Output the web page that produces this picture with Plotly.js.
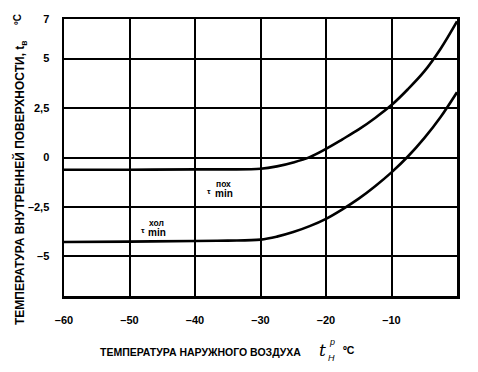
<!DOCTYPE html>
<html>
<head>
<meta charset="utf-8">
<script src="https://cdn.plot.ly/plotly-3.0.1.min.js"></script>
<style>html,body{margin:0;padding:0;background:#fff;}#chart{width:478px;height:372px;}</style>
</head>
<body>
<div id="chart"></div>
<script>
// Outdoor temperature, °C
var outdoorTemp = [-60, -50, -40, -35, -30, -27.5, -25, -22.5, -20, -17.5, -15, -12.5, -10, -7.5, -5, -2.5, 0];
// τ min (пох) curve
var tauPoh = [-0.62, -0.62, -0.6, -0.6, -0.57, -0.45, -0.25, 0.02, 0.44, 0.92, 1.42, 2.0, 2.65, 3.45, 4.35, 5.5, 6.88];
// τ min (хол) curve
var tauHol = [-4.27, -4.25, -4.22, -4.2, -4.15, -4.0, -3.77, -3.47, -3.1, -2.62, -2.08, -1.45, -0.75, 0.05, 0.98, 2.05, 3.3];

var xTickVals = [-60, -50, -40, -30, -20, -10];
var xTickText = ['–60', '–50', '–40', '–30', '–20', '–10'];
var yTickVals = [-5, -2.5, 0, 2.5, 5, 7];
var yTickText = ['–5', '–2,5', '0', '2,5', '5', '7'];

var F = 'Liberation Sans, Arial, sans-serif';
var lineStyle = {color: '#000', width: 2.6, shape: 'spline', smoothing: 1};

var data = [
  {x: outdoorTemp, y: tauPoh, mode: 'lines', line: lineStyle, hoverinfo: 'skip', showlegend: false},
  {x: outdoorTemp, y: tauHol, mode: 'lines', line: lineStyle, hoverinfo: 'skip', showlegend: false}
];

function ann(x, y, text, size, opts) {
  var a = {x: x, y: y, xref: 'x', yref: 'y', text: text, showarrow: false,
    font: {family: F, size: size, color: '#000', weight: 'bold'}, xanchor: 'center', yanchor: 'middle'};
  for (var k in opts) a[k] = opts[k];
  return a;
}
function pann(px, py, text, font, opts) {
  var a = {xref: 'paper', yref: 'paper', x: (px - 64) / 393, y: (296 - py) / 277, text: text,
    showarrow: false, font: font, xanchor: 'center', yanchor: 'middle'};
  for (var k in opts) a[k] = opts[k];
  return a;
}

var annotations = [
  ann(-37.9, -1.72, 'τ', 8),
  ann(-35.7, -1.36, 'пох', 8.5),
  ann(-35.6, -1.8, 'min', 10),
  ann(-47.9, -3.7, 'τ', 8),
  ann(-45.9, -3.33, 'хол', 8.5),
  ann(-45.8, -3.78, 'min', 10),
  // y title
  pann(20, 183, 'ТЕМПЕРАТУРА ВНУТРЕННЕЙ ПОВЕРХНОСТИ, t<sub>в</sub>',
       {family: F, size: 12, color: '#000', weight: 'bold'}, {textangle: -90}),
  pann(17, 20, 'ºC', {family: F, size: 10, color: '#000', weight: 'bold'}, {textangle: -90}),
  // x title
  pann(200, 352, 'ТЕМПЕРАТУРА НАРУЖНОГО ВОЗДУХА', {family: F, size: 10.5, color: '#000', weight: 'bold'}),
  pann(322, 350, '<i>t</i>', {family: 'DejaVu Serif, serif', size: 17, color: '#000'}),
  pann(332, 342, '<i>р</i>', {family: F, size: 9, color: '#000'}),
  pann(331, 358, '<i>Н</i>', {family: F, size: 9, color: '#000'}),
  pann(349, 350, 'ºC', {family: F, size: 10.5, color: '#000', weight: 'bold'})
];

var layout = {
  width: 478, height: 372,
  margin: {l: 64, r: 21, t: 19, b: 76},
  paper_bgcolor: '#fff', plot_bgcolor: '#fff',
  showlegend: false,
  xaxis: {
    range: [-60, 0], tickvals: xTickVals, ticktext: xTickText,
    showgrid: true, gridcolor: '#000', gridwidth: 2, zeroline: false,
    showline: true, linecolor: '#000', linewidth: 2.5, mirror: true,
    ticks: '', ticklabelstandoff: 12,
    tickfont: {family: F, size: 11, color: '#000', weight: 'bold'}
  },
  yaxis: {
    range: [-7, 7], tickvals: yTickVals, ticktext: yTickText,
    showgrid: true, gridcolor: '#000', gridwidth: 2, zeroline: false,
    showline: true, linecolor: '#000', linewidth: 2.5, mirror: true,
    ticks: '', ticklabelstandoff: 10,
    tickfont: {family: F, size: 11, color: '#000', weight: 'bold'}
  },
  annotations: annotations
};

Plotly.newPlot('chart', data, layout, {staticPlot: true, displayModeBar: false});
</script>
</body>
</html>
